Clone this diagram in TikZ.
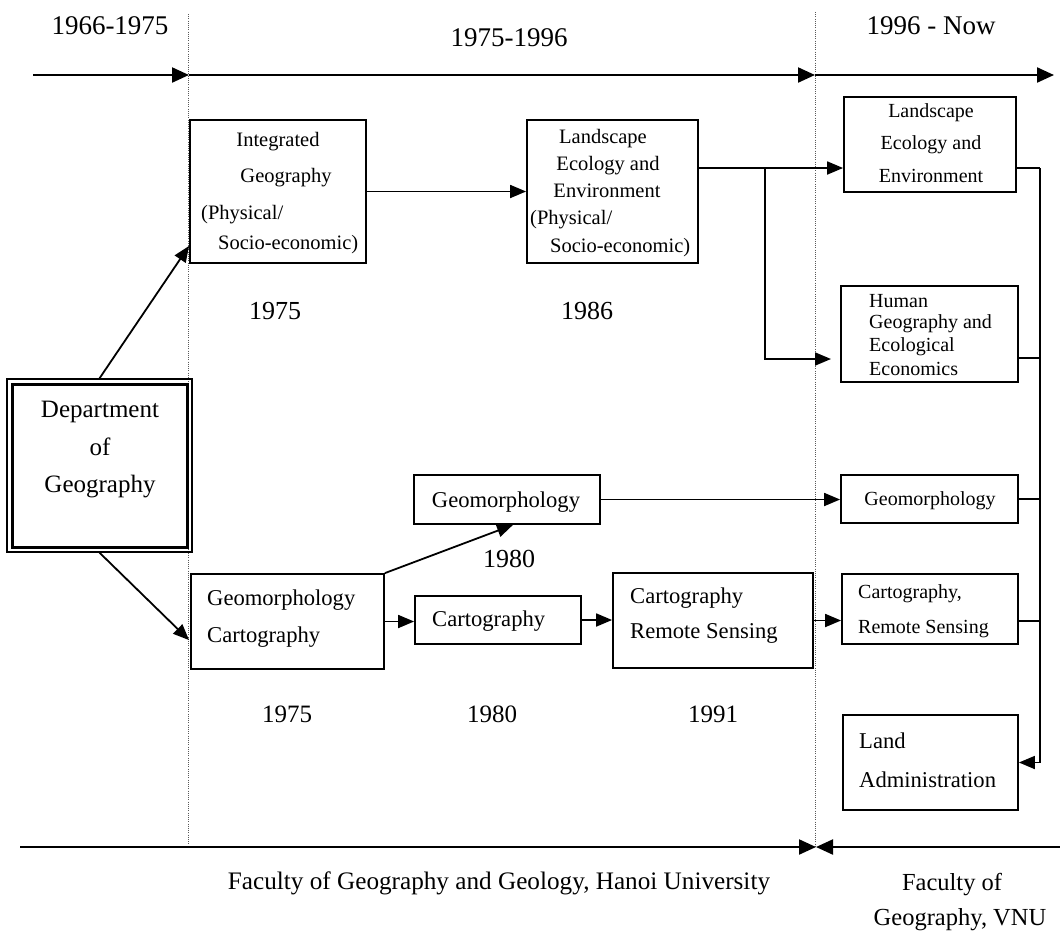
\documentclass[tikz,border=0pt]{standalone}
\usepackage{fontspec}
\setmainfont{Liberation Serif}
\usetikzlibrary{arrows.meta,fit}
\newcommand\fsz[1]{\fontsize{#1}{#1}\selectfont}
\begin{document}
\begin{tikzpicture}[x=1pt,y=-1pt,
  box/.style={draw, line width=1.8pt, inner sep=0pt},
  conn/.style={line width=1.8pt, -{Triangle[length=16pt,width=13pt]}},
  plain/.style={line width=1.8pt},
  tline/.style={line width=2.2pt, -{Triangle[length=17pt,width=15pt]}},
  sep/.style={line width=1pt, gray!70!black, dash pattern=on 1pt off 1.2pt},
  t/.style={inner sep=0pt, anchor=base},
  tl/.style={inner sep=0pt, anchor=base west},
]
\useasboundingbox[fill=white] (0,0) rectangle (1060,932);

% dotted separators
\coordinate (d1t) at (188,14); \coordinate (d1b) at (188,845);
\coordinate (d2t) at (815,12); \coordinate (d2b) at (815,848);
\draw[sep] (d1t) -- (d1b);
\draw[sep] (d2t) -- (d2b);

% headers
\node[t, font=\fsz{27}] (h1) at (110,34) {1966-1975};
\node[t, font=\fsz{27}] (h2) at (509,46) {1975-1996};
\node[t, font=\fsz{27}] (h3) at (931,34) {1996 - Now};

% top timeline
\coordinate (a0) at (33,75); \coordinate (a1) at (189,75);
\coordinate (a2) at (815,75); \coordinate (a3) at (1054,75);
\draw[tline] (a0) -- (a1);
\draw[tline] (a1) -- (a2);
\draw[tline] (a2) -- (a3);

% bottom timeline
\coordinate (b0) at (20,847); \coordinate (b1) at (816,847); \coordinate (b2) at (1060,847);
\draw[tline] (b0) -- (b1);
\draw[tline] (b2) -- (b1);

% Department box
\node[box, line width=1.3pt, fit={(7,379) (192,552)}] (dept) {};
\draw[line width=2.4pt] ([shift={(6pt,-6pt)}]dept.north west) rectangle ([shift={(-5pt,5pt)}]dept.south east);
\node[t, font=\fsz{25}] (dt1) at (100,417) {Department};
\node[t, font=\fsz{25}] (dt2) at (100,455) {of};
\node[t, font=\fsz{25}] (dt3) at (100,492) {Geography};

% Integrated Geography
\node[box, fit={(190,120) (366,263)}] (ig) {};
\node[t, font=\fsz{20.5}] (ig1) at (278,146) {Integrated};
\node[t, font=\fsz{20.5}] (ig2) at (286,182) {Geography};
\node[tl, font=\fsz{20.5}] (ig3) at (201,219) {(Physical/};
\node[tl, font=\fsz{20.5}] (ig4) at (218,249) {Socio-economic)};
\node[t, font=\fsz{26}] (y1) at (275,319) {1975};

% Landscape Ecology (middle)
\node[box, fit={(527,120) (698,263)}] (lm) {};
\node[t, font=\fsz{20.5}] (lm1) at (603,143) {Landscape};
\node[t, font=\fsz{20.5}] (lm2) at (608,170) {Ecology and};
\node[t, font=\fsz{20.5}] (lm3) at (607,197) {Environment};
\node[tl, font=\fsz{20.5}] (lm4) at (530,224) {(Physical/};
\node[tl, font=\fsz{20.5}] (lm5) at (550,252) {Socio-economic)};
\node[t, font=\fsz{26}] (y2) at (587,319) {1986};

% right column
\node[box, fit={(844,97) (1016,192)}] (lr) {};
\node[t, font=\fsz{20}] (lr1) at (931,117) {Landscape};
\node[t, font=\fsz{20}] (lr2) at (931,149) {Ecology and};
\node[t, font=\fsz{20}] (lr3) at (931,182) {Environment};

\node[box, fit={(841,286) (1018,382)}] (hg) {};
\node[tl, font=\fsz{20}] (hg1) at (869,307) {Human};
\node[tl, font=\fsz{20}] (hg2) at (869,328) {Geography and};
\node[tl, font=\fsz{20}] (hg3) at (869,351) {Ecological};
\node[tl, font=\fsz{20}] (hg4) at (869,375) {Economics};

\node[box, fit={(841,475) (1018,523)}] (rg) {};
\node[t, font=\fsz{20}] (rg1) at (930,505) {Geomorphology};

\node[box, fit={(842,574) (1018,644)}] (rc) {};
\node[tl, font=\fsz{20}] (rc1) at (858,598) {Cartography,};
\node[tl, font=\fsz{20}] (rc2) at (858,633) {Remote Sensing};

\node[box, fit={(843,715) (1018,810)}] (la) {};
\node[tl, font=\fsz{22.6}] (la1) at (859,748) {Land};
\node[tl, font=\fsz{22.6}] (la2) at (859,787) {Administration};

% lower-left chain
\node[box, fit={(191,574) (384,669)}] (gc) {};
\node[tl, font=\fsz{22.6}] (gc1) at (207,605) {Geomorphology};
\node[tl, font=\fsz{22.6}] (gc2) at (207,642) {Cartography};

\node[box, fit={(414,475) (600,524)}] (gm) {};
\node[t, font=\fsz{22.6}] (gm1) at (506,507) {Geomorphology};
\node[t, font=\fsz{26}] (y3) at (509,567) {1980};

\node[box, fit={(415,596) (581,644)}] (cm) {};
\node[tl, font=\fsz{22.6}] (cm1) at (432,626) {Cartography};

\node[box, fit={(613,573) (813,668)}] (crs) {};
\node[tl, font=\fsz{22.6}] (crs1) at (630,603) {Cartography};
\node[tl, font=\fsz{22.6}] (crs2) at (630,638) {Remote Sensing};

\node[t, font=\fsz{25}] (y4) at (287,722) {1975};
\node[t, font=\fsz{25}] (y5) at (492,722) {1980};
\node[t, font=\fsz{25}] (y6) at (713,722) {1991};

% bottom labels
\node[t, font=\fsz{25.2}] (f1) at (499,889) {Faculty of Geography and Geology, Hanoi University};
\node[t, font=\fsz{24.5}] (f2) at (952,890) {Faculty of};
\node[t, font=\fsz{24.5}] (f3) at (960,925) {Geography, VNU};

% connectors
\draw[conn] (dept.north) -- ([yshift=18pt]ig.south west);
\draw[conn] (dept.south) -- ([yshift=-67pt]ig.south west |- gc.north west);
\draw[conn] (ig.east) -- (lm.west);

\coordinate (lms) at ([yshift=23.5pt]lm.east);
\coordinate (j1) at (765,168);
\coordinate (j2) at (831,359);
\draw[plain] (lms) -- (j1);
\draw[conn] (j1) -- (j1 -| lr.west);
\draw[conn] (j1) |- (j2);

\draw[conn] (gc.north east) -- ([xshift=6pt]gm.south);
\draw[conn] (gc.east) -- (gc.east -| cm.west);
\draw[conn] (cm.east) -- (cm.east -| crs.west);
\draw[conn] (crs.east) -- (crs.east -| rc.west);
\draw[conn] (gm.east) -- (gm.east -| rg.west);

% right bus
\coordinate (bt) at (1040,168);
\coordinate (lrs) at ([yshift=-23.5pt]lr.east);
\coordinate (hgs) at ([yshift=-24pt]hg.east);
\coordinate (rcs) at ([yshift=-12pt]rc.east);
\draw[plain] (lrs) -- (lrs -| bt);
\draw[plain] (hgs) -- (hgs -| bt);
\draw[plain] (rg.east) -- (rg.east -| bt);
\draw[plain] (rcs) -- (rcs -| bt);
\draw[conn] (bt) |- (la.east);
\end{tikzpicture}
\end{document}
